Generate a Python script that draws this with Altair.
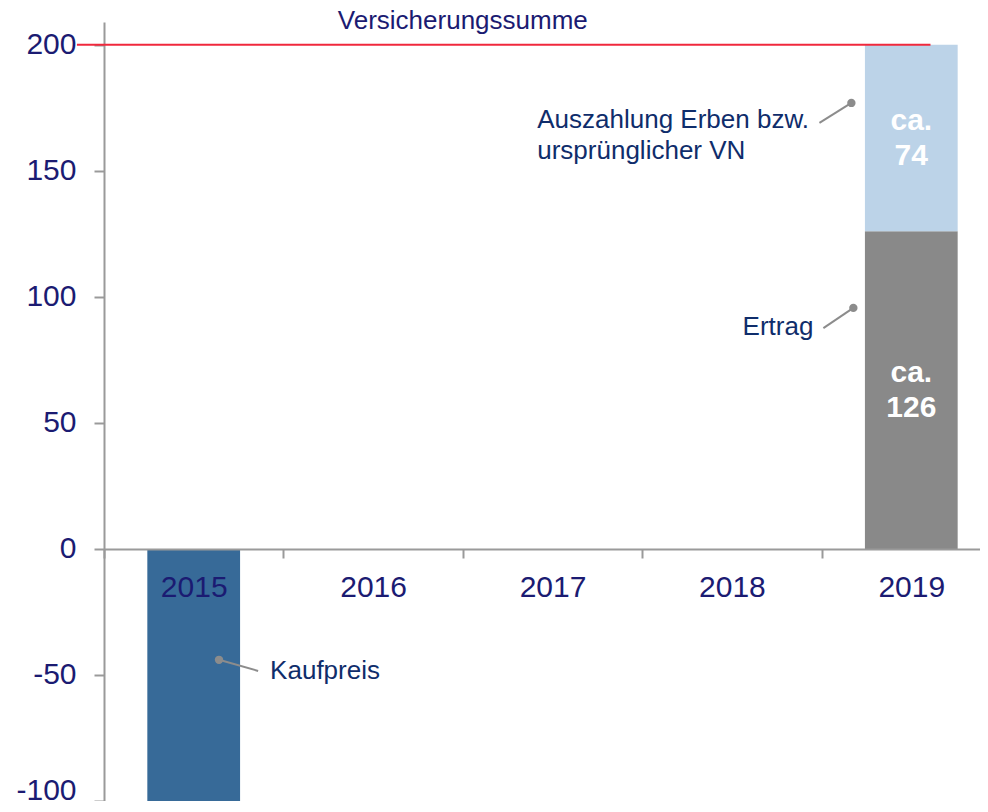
import altair as alt
import pandas as pd

# ---- data ----
years = ["2015", "2016", "2017", "2018", "2019"]
seg_names = ["Kaufpreis", "Ertrag", "Auszahlung"]
seg_years = ["2015", "2019", "2019"]
seg_values = [-100, 126, 74]
seg_labels = ["", "ca.\n126", "ca.\n74"]
seg_colors = ["#376a98", "#898989", "#bcd3e8"]
insured_sum = 200
insured_label = "Versicherungssumme"
y_ticks = [-100, -50, 0, 50, 100, 150, 200]

# annotations (label, x in category units, y in value units)
ann_labels = ["Kaufpreis", "Ertrag", "Auszahlung Erben bzw.\nursprünglicher VN"]
ann_dot_x = [0.641, 4.177, 4.166]
ann_dot_y = [-44, 95.6, 176.9]
ann_end_x = [0.859, 4.010, 3.988]
ann_end_y = [-48.4, 87.6, 169]
ann_text_x = [0.926, 3.954, 2.415]
ann_text_y = [-51.6, 84.8, 167]
ann_align = ["left", "right", "left"]

# ---- build tables ----
rows = []
pos_base = {}
for name, yr, v, lab in zip(seg_names, seg_years, seg_values, seg_labels):
    if v >= 0:
        start = pos_base.get(yr, 0)
        end = start + v
        pos_base[yr] = end
    else:
        start, end = 0, v
    rows.append(dict(segment=name, year=yr, start=start, end=end,
                     mid=(start + end) / 2, label=lab))
bars_df = pd.DataFrame(rows)

ann_df = pd.DataFrame(dict(label=ann_labels, dx=ann_dot_x, dy=ann_dot_y,
                           ex=ann_end_x, ey=ann_end_y, tx=ann_text_x,
                           ty=ann_text_y, align=ann_align))

NAVY = "#1b1b72"
ANN = "#0f2d6b"
FONT = "Liberation Sans"
GREY = "#9a9a9a"

y_scale = alt.Scale(domain=[-100, 209], nice=False, zero=False)
x_band = alt.Scale(domain=years, paddingInner=0, paddingOuter=0)
x_q = alt.Scale(domain=[0, 5], nice=False, zero=False)

bars = alt.Chart(bars_df).mark_bar(width=alt.RelativeBandSize(0.517)).encode(
    x=alt.X("year:N", scale=x_band, sort=years,
            axis=alt.Axis(title=None, orient="bottom", offset=-252, tickBand="extent",
                          tickSize=9, tickWidth=2, tickColor=GREY, domainColor=GREY,
                          domainWidth=2, labelAngle=0, labelFontSize=30, labelFont=FONT,
                          labelColor=NAVY, labelPadding=14, grid=False, zindex=1)),
    y=alt.Y("start:Q", scale=y_scale,
            axis=alt.Axis(title=None, values=y_ticks, tickSize=10, tickWidth=2,
                          tickColor=GREY, domainColor=GREY, domainWidth=2,
                          labelFontSize=30, labelFont=FONT, labelColor=NAVY,
                          labelPadding=18, grid=False, labelExpr="'' + datum.value",
                          labelBaseline={"condition": {"test": "datum.value == -100",
                                                       "value": "alphabetic"},
                                         "value": "middle"},
                          labelOffset={"condition": {"test": "datum.value == -100",
                                                     "value": -2},
                                       "value": 0})),
    y2="end:Q",
    color=alt.Color("segment:N", scale=alt.Scale(domain=seg_names, range=seg_colors), legend=None),
)

bar_text = alt.Chart(bars_df).mark_text(
    font=FONT, fontSize=30, fontWeight="bold", color="white",
    lineBreak="\n", lineHeight=35, baseline="middle", align="center", dy=-17,
).encode(
    x=alt.X("year:N", scale=x_band, sort=years, bandPosition=0.5),
    y=alt.Y("mid:Q", scale=y_scale),
    text="label:N",
)

ref_df = pd.DataFrame(dict(v=[insured_sum], x0=[-0.151], x1=[4.607], xc=[2.0], t=[insured_label]))

red_line = alt.Chart(ref_df).mark_rule(color="#f0283c", strokeWidth=2).encode(
    x=alt.X("x0:Q", scale=x_q, axis=None), x2="x1:Q",
    y=alt.Y("v:Q", scale=y_scale),
)
red_text = alt.Chart(ref_df).mark_text(
    font=FONT, fontSize=26, color=NAVY, baseline="alphabetic", align="center", dy=-16,
).encode(
    x=alt.X("xc:Q", scale=x_q, axis=None),
    y=alt.Y("v:Q", scale=y_scale),
    text="t:N",
)

connectors = alt.Chart(ann_df).mark_rule(color="#8c8c8c", strokeWidth=2).encode(
    x=alt.X("dx:Q", scale=x_q, axis=None), x2="ex:Q",
    y=alt.Y("dy:Q", scale=y_scale), y2="ey:Q",
)
dots = alt.Chart(ann_df).mark_point(filled=True, size=70, color="#8c8c8c", opacity=1, shape="circle").encode(
    x=alt.X("dx:Q", scale=x_q, axis=None),
    y=alt.Y("dy:Q", scale=y_scale),
)
ann_left = alt.Chart(ann_df).transform_filter("datum.align == 'left'").mark_text(
    font=FONT, fontSize=26, color=ANN, baseline="alphabetic", align="left",
    lineBreak="\n", lineHeight=31,
).encode(
    x=alt.X("tx:Q", scale=x_q, axis=None),
    y=alt.Y("ty:Q", scale=y_scale),
    text="label:N",
)
ann_right = alt.Chart(ann_df).transform_filter("datum.align == 'right'").mark_text(
    font=FONT, fontSize=26, color=ANN, baseline="alphabetic", align="right",
    lineBreak="\n", lineHeight=31,
).encode(
    x=alt.X("tx:Q", scale=x_q, axis=None),
    y=alt.Y("ty:Q", scale=y_scale),
    text="label:N",
)

band_layer = alt.layer(bars, bar_text)
ann_layer = alt.layer(red_line, red_text, connectors, dots, ann_left, ann_right)

chart = alt.layer(band_layer, ann_layer).resolve_scale(x="independent").properties(
    width=897, height=779,
    autosize=alt.AutoSizeParams(type="none"),
    padding={"left": 96, "top": 14, "right": -21, "bottom": 0},
    background="white",
).configure_view(stroke=None)

chart.save("out.html", embed_options={"renderer": "svg", "actions": False})
